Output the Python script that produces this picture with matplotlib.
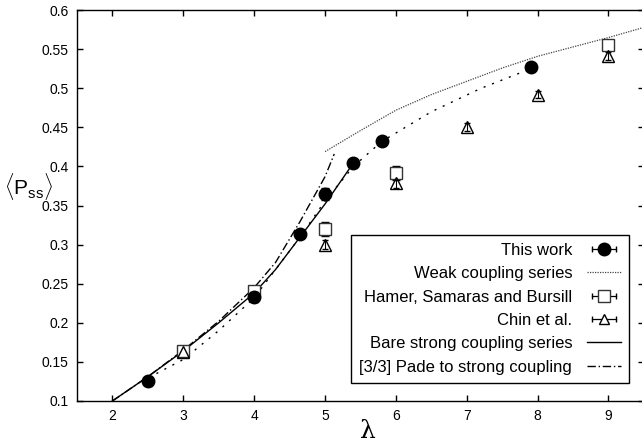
import matplotlib
matplotlib.use('Agg')
import matplotlib.pyplot as plt
from matplotlib.lines import Line2D
from matplotlib.legend_handler import HandlerLine2D, HandlerTuple

plt.rcParams['font.family'] = ['Liberation Sans', 'DejaVu Sans']
plt.rcParams['mathtext.fontset'] = 'custom'
plt.rcParams['mathtext.rm'] = 'Liberation Sans'

# This work (Monte Carlo points)
lam_tw = [2.5, 4.0, 4.65, 5.0, 5.4, 5.8, 7.9]
p_tw = [0.125, 0.233, 0.313, 0.365, 0.405, 0.432, 0.527]
e_tw = [0.002, 0.007, 0.003, 0.008, 0.002, 0.002, 0.002]

# smooth curve through this work
lam_fit = [2.62, 3.0, 3.5, 4.0, 4.65, 5.0, 5.4, 5.8, 6.5, 7.2, 7.9]
p_fit = [0.135, 0.153, 0.19, 0.232, 0.31, 0.356, 0.4, 0.432, 0.47, 0.5, 0.525]

# weak coupling series
lam_weak = [5.0, 5.5, 6.0, 6.5, 7.0, 7.5, 8.0, 8.5, 9.0, 9.5]
p_weak = [0.419, 0.446, 0.472, 0.492, 0.509, 0.526, 0.541, 0.553, 0.565, 0.578]

# Hamer, Samaras and Bursill
lam_hsb = [3.0, 4.0, 5.0, 6.0, 9.0]
p_hsb = [0.164, 0.241, 0.32, 0.392, 0.555]
e_hsb = [0.002, 0.003, 0.009, 0.009, 0.002]

# Chin et al.
lam_chin = [3.0, 5.0, 6.0, 7.0, 8.0, 9.0]
p_chin = [0.162, 0.30, 0.379, 0.45, 0.492, 0.541]
e_chin = [0.004, 0.006, 0.006, 0.005, 0.005, 0.005]

# bare strong coupling series
lam_strong = [2.0, 2.5, 3.0, 3.5, 4.0, 4.3, 4.65, 5.0, 5.35]
p_strong = [0.1, 0.131, 0.164, 0.2, 0.238, 0.268, 0.31, 0.352, 0.398]

# [3/3] Pade
lam_pade = [2.0, 2.5, 3.0, 3.5, 4.0, 4.3, 4.65, 5.0, 5.13]
p_pade = [0.1, 0.131, 0.165, 0.202, 0.245, 0.277, 0.33, 0.387, 0.416]

fig = plt.figure(figsize=(6.42, 4.43), dpi=100)
ax = fig.add_axes([0.12, 0.095, 0.883, 0.882])

ax.plot(lam_fit, p_fit, color='black', lw=1.0, dashes=(1.5, 5))
ax.plot(lam_weak, p_weak, color='#444444', lw=0.9, linestyle=(0, (1, 1)))
ax.plot(lam_strong, p_strong, color='black', lw=1.0, linestyle='-')
ax.plot(lam_pade, p_pade, color='black', lw=1.0, linestyle=(0, (6, 2, 1, 2)))

ax.errorbar(lam_hsb, p_hsb, yerr=e_hsb, fmt='s', ms=9, mfc='white', mec='#333333',
            mew=1.0, ecolor='black', elinewidth=0.8, capsize=3, zorder=4)
ax.errorbar(lam_chin, p_chin, yerr=e_chin, fmt='^', ms=8, mfc='none', mec='black',
            mew=1.0, ecolor='black', elinewidth=0.8, capsize=2, zorder=4)
ax.errorbar(lam_tw, p_tw, yerr=e_tw, fmt='o', ms=9, color='black',
            ecolor='black', elinewidth=0.8, capsize=3, zorder=5)

ax.set_xlim(1.5, 9.5)
ax.set_ylim(0.1, 0.6)
ax.set_xticks([2, 3, 4, 5, 6, 7, 8, 9])
ax.set_yticks([0.1, 0.15, 0.2, 0.25, 0.3, 0.35, 0.4, 0.45, 0.5, 0.55, 0.6])
ax.set_yticklabels(['0.1', '0.15', '0.2', '0.25', '0.3', '0.35', '0.4', '0.45',
                    '0.5', '0.55', '0.6'])
ax.tick_params(direction='in', top=True, right=True, length=4, width=1,
               labelsize=10, pad=6)
for s in ax.spines.values():
    s.set_linewidth(1.0)

fig.text(0.573, 0.012, 'λ', fontsize=18, family='DejaVu Serif', ha='center')
fig.text(0.006, 0.578, r'$\langle\mathrm{P}_{\mathrm{ss}}\rangle$',
         fontsize=15, ha='left', va='center')

# legend handles: line with end caps and a marker in the middle
def caps():
    return Line2D([], [], color='black', lw=0.9, marker='|', ms=5)

c1, c3, c4 = caps(), caps(), caps()
h_tw = (c1, Line2D([], [], ls='none', marker='o', ms=9, color='black'))
h_weak = Line2D([], [], color='#444444', lw=0.9, linestyle=(0, (1, 1)))
h_hsb = (c3, Line2D([], [], ls='none', marker='s', ms=9, mfc='white', mec='#333333'))
h_chin = (c4, Line2D([], [], ls='none', marker='^', ms=7, mfc='white', mec='black'))
h_strong = Line2D([], [], color='black', lw=1.0)
h_pade = Line2D([], [], color='black', lw=1.0, linestyle=(0, (6, 2, 1, 2)))

hm = {tuple: HandlerTuple(ndivide=1)}
for c in (c1, c3, c4):
    hm[c] = HandlerLine2D(numpoints=2)

leg = ax.legend([h_tw, h_weak, h_hsb, h_chin, h_strong, h_pade],
                ['This work', 'Weak coupling series', 'Hamer, Samaras and Bursill',
                 'Chin et al.', 'Bare strong coupling series',
                 '[3/3] Pade to strong coupling'],
                handler_map=hm, loc='lower right', bbox_to_anchor=(0.9735, 0.046),
                borderaxespad=0, markerfirst=False, fontsize=12, frameon=True,
                fancybox=False, edgecolor='black', framealpha=1, handlelength=2.0,
                labelspacing=0.5, borderpad=0.5, handletextpad=0.9)
leg.get_frame().set_linewidth(1.0)
for t in leg.get_texts():
    t.set_ha('right')
leg._legend_box.align = 'right'

fig.savefig('out.png', dpi=100)
